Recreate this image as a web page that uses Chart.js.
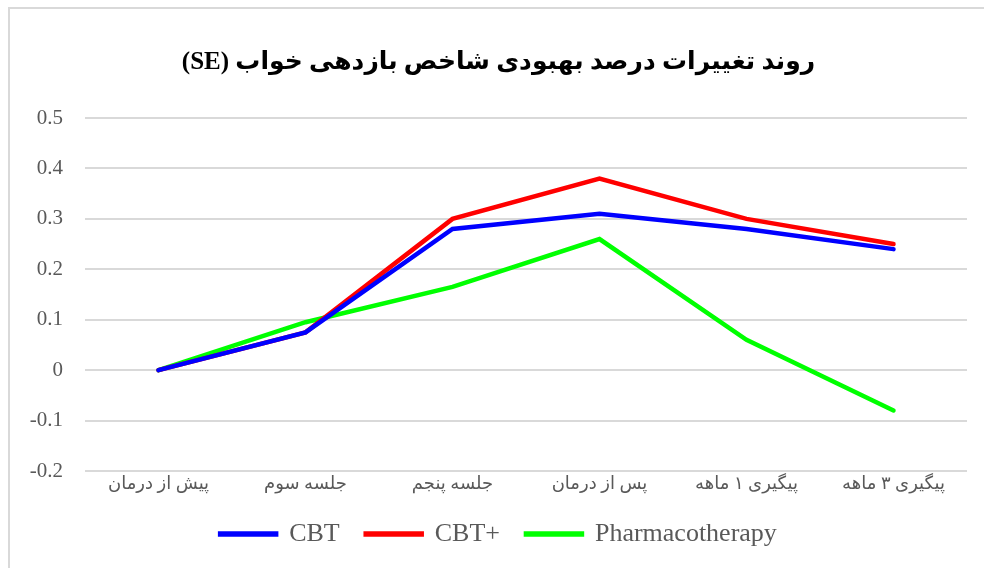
<!DOCTYPE html>
<html>
<head>
<meta charset="utf-8">
<script src="https://cdn.jsdelivr.net/npm/chart.js@4.4.1/dist/chart.umd.min.js"></script>
<style>
  html, body { margin: 0; padding: 0; background: #ffffff; }
  #wrap { position: relative; width: 984px; height: 568px; }
</style>
</head>
<body>
<div id="wrap"><canvas id="c" width="984" height="568"></canvas></div>
<script>
const categories = ['پیش از درمان', 'جلسه سوم', 'جلسه پنجم', 'پس از درمان', 'پیگیری ۱ ماهه', 'پیگیری ۳ ماهه'];
const cbt = [0, 0.075, 0.28, 0.31, 0.28, 0.24];
const cbtPlus = [0, 0.075, 0.30, 0.38, 0.30, 0.25];
const pharmaco = [0, 0.095, 0.165, 0.26, 0.06, -0.08];
const seriesNames = ['CBT', 'CBT+', 'Pharmacotherapy'];
const yTicks = [-0.2, -0.1, 0, 0.1, 0.2, 0.3, 0.4, 0.5];
const titleText = '\u202Bروند تغییرات درصد بهبودی شاخص بازدهی خواب (SE)\u202C';

const serif = "'Liberation Serif', 'Times New Roman', 'DejaVu Sans', serif";

const borderPlugin = {
  id: 'frame',
  beforeDraw(chart) {
    const ctx = chart.ctx;
    ctx.save();
    ctx.fillStyle = '#ffffff';
    ctx.fillRect(0, 0, chart.width, chart.height);
    ctx.strokeStyle = '#d9d9d9';
    ctx.lineWidth = 2;
    ctx.beginPath();
    ctx.moveTo(9, chart.height);
    ctx.lineTo(9, 8);
    ctx.lineTo(chart.width, 8);
    ctx.stroke();
    ctx.restore();
  }
};

function ds(label, data, color) {
  return {
    label, data,
    borderColor: color,
    backgroundColor: color,
    borderWidth: 4.5,
    borderCapStyle: 'round',
    borderJoinStyle: 'miter',
    pointRadius: 0,
    pointHoverRadius: 0,
    tension: 0,
    fill: false
  };
}

new Chart(document.getElementById('c'), {
  type: 'line',
  data: {
    labels: categories,
    datasets: [
      ds(seriesNames[0], cbt, '#0000ff'),
      ds(seriesNames[1], cbtPlus, '#ff0000'),
      ds(seriesNames[2], pharmaco, '#00ff00')
    ]
  },
  plugins: [borderPlugin],
  options: {
    responsive: false,
    animation: false,
    devicePixelRatio: 1,
    layout: { padding: { left: 30, right: 17, top: 0, bottom: 11 } },
    plugins: {
      title: {
        display: true,
        text: titleText,
        color: '#000000',
        font: { family: serif, size: 25, weight: 'bold', lineHeight: 1.2 },
        padding: { top: 48, bottom: 40 }
      },
      legend: {
        position: 'bottom',
        labels: {
          color: '#595959',
          font: { family: serif, size: 26 },
          boxWidth: 56,
          boxHeight: 1,
          padding: 26
        }
      },
      tooltip: { enabled: false }
    },
    scales: {
      x: {
        offset: true,
        grid: { display: false, drawTicks: false },
        border: { display: false },
        ticks: {
          color: '#595959',
          font: { family: serif, size: 18 },
          padding: 2,
          maxRotation: 0,
          autoSkip: false
        },
        afterFit(scale) { scale.height = 24; }
      },
      y: {
        min: -0.2,
        max: 0.5,
        afterBuildTicks(scale) { scale.ticks = yTicks.map(v => ({ value: v })); },
        grid: { color: '#d9d9d9', lineWidth: 2, drawTicks: false },
        border: { display: false },
        ticks: {
          color: '#595959',
          font: { family: serif, size: 21 },
          padding: 22,
          callback: v => String(Math.round(v * 10) / 10)
        },
        afterFit(scale) { scale.width = 55; }
      }
    }
  }
});
</script>
</body>
</html>
